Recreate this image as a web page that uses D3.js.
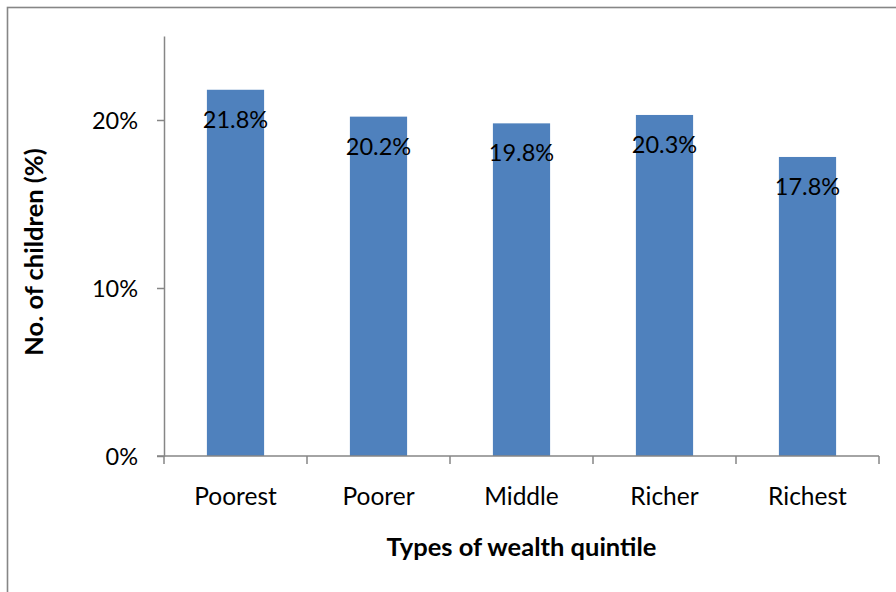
<!DOCTYPE html>
<html>
<head>
<meta charset="utf-8">
<script src="https://cdn.jsdelivr.net/npm/d3@7"></script>
<style>
  html, body { margin: 0; padding: 0; background: #fff; }
  svg { display: block; }
  text { font-family: Lato, "Open Sans", sans-serif; fill: #000; }
</style>
</head>
<body>
<svg id="chart" width="896" height="592"></svg>
<script>
// Share of children by wealth quintile
const categories = ["Poorest", "Poorer", "Middle", "Richer", "Richest"];
const values = [21.8, 20.2, 19.8, 20.3, 17.8];
const yTicks = [0, 10, 20];
const yTitle = "No. of children (%)";
const xTitle = "Types of wealth quintile";

const svg = d3.select("#chart");
const W = 896, H = 592;

const plotLeft = 164, plotRight = 879, plotTop = 36, plotBottom = 456;

const x = d3.scaleBand().domain(categories).range([plotLeft, plotRight])
  .paddingInner(0.6).paddingOuter(0.3);
const y = d3.scaleLinear().domain([0, 25]).range([plotBottom, plotTop]);

const axisColor = "#868686";
const fontSize = 23.5;

// chart-area frame
svg.append("rect")
  .attr("x", 7.5).attr("y", 7.5)
  .attr("width", W + 10).attr("height", H + 10)
  .attr("fill", "none").attr("stroke", axisColor).attr("stroke-width", 1.6);

// bars
svg.append("g").selectAll("rect")
  .data(categories)
  .join("rect")
  .attr("x", d => x(d))
  .attr("y", (d, i) => y(values[i]))
  .attr("width", x.bandwidth())
  .attr("height", (d, i) => y(0) - y(values[i]))
  .attr("fill", "#4F81BD");

// y axis
const yAxis = svg.append("g")
  .attr("transform", `translate(${plotLeft},0)`)
  .call(d3.axisLeft(y).tickValues(yTicks).tickSize(7).tickSizeOuter(0)
    .tickFormat(d => d + "%"));
yAxis.select(".domain").attr("stroke", axisColor).attr("stroke-width", 1.5);
yAxis.selectAll(".tick line").attr("stroke", axisColor).attr("stroke-width", 1.5);
yAxis.selectAll(".tick text")
  .attr("x", -26).attr("dy", "0.35em")
  .style("font-size", fontSize + "px").attr("fill", "#000");

// x axis: baseline, boundary ticks and category labels
const xAxis = svg.append("g").attr("transform", `translate(0,${plotBottom})`);
xAxis.append("line")
  .attr("x1", plotLeft - 7).attr("x2", plotRight)
  .attr("stroke", axisColor).attr("stroke-width", 1.5);
const step = x.step();
const boundaries = categories.map(c => x(c) - x.paddingOuter() * step).concat([plotRight]);
xAxis.selectAll("line.tick")
  .data(boundaries)
  .join("line")
  .attr("class", "tick")
  .attr("x1", d => d).attr("x2", d => d)
  .attr("y1", 0).attr("y2", 8)
  .attr("stroke", axisColor).attr("stroke-width", 1.5);
xAxis.selectAll("text.cat")
  .data(categories)
  .join("text")
  .attr("class", "cat")
  .attr("x", d => x(d) + x.bandwidth() / 2)
  .attr("y", 49)
  .attr("text-anchor", "middle")
  .style("font-size", "24.5px")
  .text(d => d);

// value labels
svg.append("g").selectAll("text")
  .data(categories)
  .join("text")
  .attr("x", d => x(d) + x.bandwidth() / 2)
  .attr("y", (d, i) => y(values[i]) + 38)
  .attr("text-anchor", "middle")
  .style("font-size", fontSize + "px")
  .text((d, i) => values[i].toFixed(1) + "%");

// axis titles
svg.append("text")
  .attr("x", (plotLeft + plotRight) / 2).attr("y", 556)
  .attr("text-anchor", "middle")
  .style("font-size", "25.5px").style("font-weight", "bold")
  .text(xTitle);

svg.append("text")
  .attr("transform", "translate(43,252) rotate(-90)")
  .attr("text-anchor", "middle")
  .style("font-size", "25.5px").style("font-weight", "bold")
  .text(yTitle);
</script>
</body>
</html>
